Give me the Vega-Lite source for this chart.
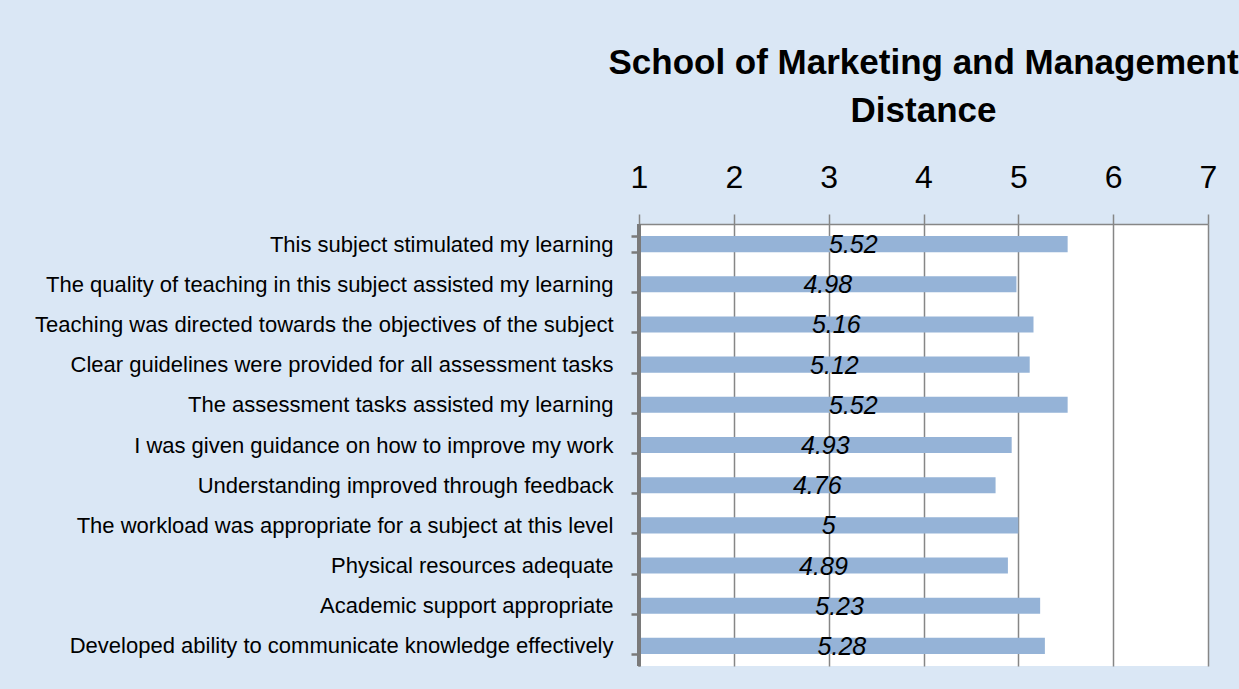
{
  "$schema": "https://vega.github.io/schema/vega-lite/v6.json",
  "width": 569,
  "height": 442,
  "autosize": {"type": "none"},
  "padding": {"left": 639, "top": 224, "right": 31, "bottom": 23},
  "background": "#dae7f5",
  "title": {
    "text": ["School of Marketing and Management", "Distance"],
    "font": "Liberation Sans",
    "fontSize": 35,
    "fontWeight": "bold",
    "color": "black",
    "anchor": "middle",
    "offset": 32,
    "lineHeight": 48
  },
  "config": {
    "view": {"fill": "white", "stroke": null},
    "font": "Liberation Sans",
    "axisY": {
      "title": null,
      "domain": true,
      "zindex": 2,
      "domainColor": "#7a7a7a",
      "domainWidth": 3,
      "domainOpacity": 1,
      "ticks": true,
      "tickColor": "#7a7a7a",
      "tickWidth": 2.5,
      "tickOpacity": 1,
      "tickSize": 8,
      "tickBand": "extent",
      "labelFontSize": 22,
      "labelColor": "black",
      "labelPadding": 18,
      "labelLimit": 0,
      "grid": false
    }
  },
  "data": {
    "values": [
      {"item": "This subject stimulated my learning", "score": 5.52},
      {"item": "The quality of teaching in this subject assisted my learning", "score": 4.98},
      {"item": "Teaching was directed towards the objectives of the subject", "score": 5.16},
      {"item": "Clear guidelines were provided for all assessment tasks", "score": 5.12},
      {"item": "The assessment tasks assisted my learning", "score": 5.52},
      {"item": "I was given guidance on how to improve my work", "score": 4.93},
      {"item": "Understanding improved through feedback", "score": 4.76},
      {"item": "The workload was appropriate for a subject at this level", "score": 5},
      {"item": "Physical resources adequate", "score": 4.89},
      {"item": "Academic support appropriate", "score": 5.23},
      {"item": "Developed ability to communicate knowledge effectively", "score": 5.28}
    ]
  },
  "layer": [
    {
      "mark": {"type": "bar", "color": "#95b3d7"},
      "encoding": {
        "y": {
          "field": "item",
          "type": "nominal",
          "sort": null,
          "scale": {"paddingInner": 0.6, "paddingOuter": 0.3}
        },
        "x": {
          "field": "score",
          "type": "quantitative",
          "scale": {"domain": [1, 7], "nice": false, "zero": false},
          "axis": {
            "orient": "top",
            "title": null,
            "values": [1, 2, 3, 4, 5, 6, 7],
            "grid": true,
            "gridColor": "#868686",
            "gridWidth": 1.5,
            "gridOpacity": 1,
            "domainColor": "#868686",
            "domainWidth": 1.5,
            "tickColor": "#868686",
            "tickWidth": 1.5,
            "tickSize": 10,
            "labelFontSize": 32,
            "labelColor": "black",
            "labelPadding": 20,
            "labelFlush": false
          }
        },
        "x2": {"datum": 1}
      }
    },
    {
      "mark": {"type": "rule", "color": "#7a7a7a", "strokeWidth": 3},
      "encoding": {
        "x": {
          "datum": 1,
          "type": "quantitative",
          "scale": {"domain": [1, 7], "nice": false, "zero": false},
          "axis": null
        }
      }
    },
    {
      "mark": {"type": "text", "fontStyle": "italic", "fontSize": 25, "color": "black", "baseline": "middle", "dy": 1},
      "encoding": {
        "y": {"field": "item", "type": "nominal", "sort": null},
        "x": {
          "field": "score",
          "type": "quantitative",
          "scale": {"domain": [1, 13], "nice": false, "zero": false},
          "axis": null
        },
        "text": {"field": "score", "type": "quantitative"}
      }
    }
  ],
  "resolve": {"scale": {"x": "independent"}}
}
